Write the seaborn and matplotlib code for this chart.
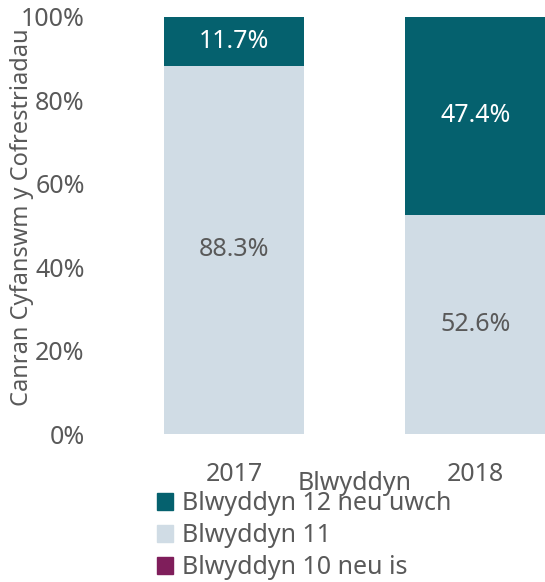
import numpy as np
import pandas as pd
import matplotlib
matplotlib.use("Agg")
import matplotlib.pyplot as plt
import matplotlib.patches as mpatches
import seaborn as sns

sns.set_theme(style="white")
plt.rcParams["font.family"] = ["Noto Sans", "DejaVu Sans"]

# Data
years = ["2017", "2018"]
blwyddyn_10 = [0.0, 0.0]
blwyddyn_11 = [88.3, 52.6]
blwyddyn_12 = [11.7, 47.4]

series_names = ["Blwyddyn 12 neu uwch", "Blwyddyn 11", "Blwyddyn 10 neu is"]
series_colors = ["#05616e", "#d0dce5", "#7f1e5b"]
text_grey = "#595959"
fs = 18

df = pd.DataFrame({
    "year": years,
    "y10": blwyddyn_10,
    "y11": blwyddyn_11,
    "y12": blwyddyn_12,
})
df["top_12"] = df["y10"] + df["y11"] + df["y12"]
df["top_11"] = df["y10"] + df["y11"]
df["top_10"] = df["y10"]

fig = plt.figure(figsize=(5.45, 5.82), dpi=100)
ax = fig.add_axes([100 / 545, 1 - 434 / 582, 445 / 545, 417 / 582])

# stacked bars drawn as layered cumulative totals
sns.barplot(data=df, x="year", y="top_12", color=series_colors[0], width=0.58,
            saturation=1, ax=ax, linewidth=0)
sns.barplot(data=df, x="year", y="top_11", color=series_colors[1], width=0.58,
            saturation=1, ax=ax, linewidth=0)
sns.barplot(data=df, x="year", y="top_10", color=series_colors[2], width=0.58,
            saturation=1, ax=ax, edgecolor=series_colors[2], linewidth=0.6)

for i, row in df.iterrows():
    ax.text(i, row["y10"] + row["y11"] / 2, f"{row['y11']:.1f}%", ha="center",
            va="center", fontsize=fs, color=text_grey)
    ax.text(i, row["top_11"] + row["y12"] / 2, f"{row['y12']:.1f}%", ha="center",
            va="center", fontsize=fs, color="white")

ax.set_ylim(0, 100)
ax.set_xlim(-0.555, 1.288)
ax.set_yticks([0, 20, 40, 60, 80, 100])
ax.set_yticklabels([f"{v}%" for v in [0, 20, 40, 60, 80, 100]])
ax.tick_params(axis="y", labelsize=fs, labelcolor=text_grey, pad=11, length=0)
ax.tick_params(axis="x", labelsize=fs, labelcolor=text_grey, pad=20, length=0)
for s in ax.spines.values():
    s.set_visible(False)

ax.set_xlabel("")
ax.set_ylabel("")
fig.text(355 / 545, 1 - 484 / 582, "Blwyddyn", ha="center", va="center",
         fontsize=fs, color=text_grey)
fig.text(22 / 545, 1 - 217 / 582, "Canran Cyfanswm y Cofrestriadau", ha="center",
         va="center", rotation=90, fontsize=17, color=text_grey)

handles = [mpatches.Patch(color=c, label=n) for c, n in zip(series_colors, series_names)]
fig.legend(handles=handles, loc="upper left", bbox_to_anchor=(157 / 545, 1 - 491 / 582),
           frameon=False, fontsize=fs, labelcolor=text_grey, handlelength=0.65,
           handleheight=0.65, handletextpad=0.35, labelspacing=0.28, borderpad=0,
           borderaxespad=0)

fig.savefig("out.png", dpi=100)
